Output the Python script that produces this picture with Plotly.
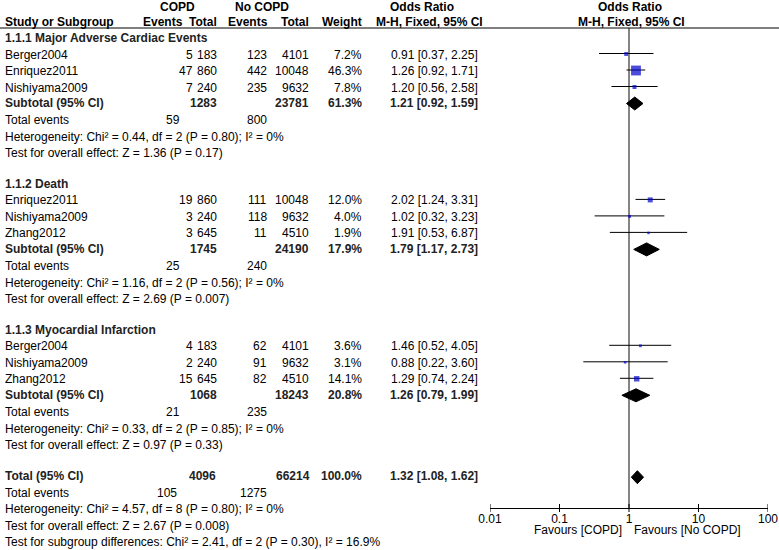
import math
import plotly.graph_objects as go

# ---------------- data ----------------
group_titles = ["1.1.1 Major Adverse Cardiac Events", "1.1.2 Death", "1.1.3 Myocardial Infarction"]
study_names = ["Berger2004", "Enriquez2011", "Nishiyama2009",
               "Enriquez2011", "Nishiyama2009", "Zhang2012",
               "Berger2004", "Nishiyama2009", "Zhang2012"]
study_group = [0, 0, 0, 1, 1, 1, 2, 2, 2]
copd_events = [5, 47, 7, 19, 3, 3, 4, 2, 15]
copd_total = [183, 860, 240, 860, 240, 645, 183, 240, 645]
nocopd_events = [123, 442, 235, 111, 118, 11, 62, 91, 82]
nocopd_total = [4101, 10048, 9632, 10048, 9632, 4510, 4101, 9632, 4510]
weights = [7.2, 46.3, 7.8, 12.0, 4.0, 1.9, 3.6, 3.1, 14.1]
or_est = [0.91, 1.26, 1.20, 2.02, 1.02, 1.91, 1.46, 0.88, 1.29]
or_lo = [0.37, 0.92, 0.56, 1.24, 0.32, 0.53, 0.52, 0.22, 0.74]
or_hi = [2.25, 1.71, 2.58, 3.31, 3.23, 6.87, 4.05, 3.60, 2.24]

sub_copd_total = [1283, 1745, 1068]
sub_nocopd_total = [23781, 24190, 18243]
sub_weight = [61.3, 17.9, 20.8]
sub_or = [1.21, 1.79, 1.26]
sub_lo = [0.92, 1.17, 0.79]
sub_hi = [1.59, 2.73, 1.99]
sub_copd_events = [59, 25, 21]
sub_nocopd_events = [800, 240, 235]
het_chi2 = ["0.44", "1.16", "0.33"]
het_df = [2, 2, 2]
het_p = ["0.80", "0.56", "0.85"]
het_i2 = ["0%", "0%", "0%"]
z_val = ["1.36", "2.69", "0.97"]
z_p = ["0.17", "0.007", "0.33"]

total_copd_total = 4096
total_nocopd_total = 66214
total_weight = 100.0
total_or = 1.32
total_lo = 1.08
total_hi = 1.62
total_copd_events = 105
total_nocopd_events = 1275
total_het = ("4.57", 8, "0.80", "0%")
total_z = ("2.67", "0.008")
subgroup_diff = ("2.41", 2, "0.30", "16.9%")

tick_vals = [0.01, 0.1, 1, 10, 100]
tick_text = ["0.01", "0.1", "1", "10", "100"]

# ---------------- layout helpers ----------------
W, H = 779, 550
FONT = "Liberation Sans, Arial, sans-serif"
FS = 12
annotations = []


def txt(x, y, s, anchor="left", bold=False, color="#000"):
    annotations.append(dict(
        x=x / W, y=y, xref="paper", yref="y", text=("<b>%s</b>" % s) if bold else s,
        showarrow=False, xanchor=anchor, yanchor="middle", borderpad=0,
        font=dict(family=FONT, size=FS, color=color)))


X_CE, X_CT, X_NE, X_NT, X_W, X_OR = 194, 218, 268, 310, 363, 479
X_TE_C, X_TE_N = 181, 268

# header
txt(177, 6.5, "COPD", "center", True)
txt(262, 6.5, "No COPD", "center", True)
txt(422, 6.5, "Odds Ratio", "center", True)
txt(630, 6.5, "Odds Ratio", "center", True)
txt(4, 22, "Study or Subgroup", "left", True)
txt(184, 22, "Events", "right", True)
txt(218, 22, "Total", "right", True)
txt(269, 22, "Events", "right", True)
txt(310, 22, "Total", "right", True)
txt(363, 22, "Weight", "right", True)
txt(430, 22, "M-H, Fixed, 95% CI", "center", True)
txt(631, 22, "M-H, Fixed, 95% CI", "center", True)

HEADER_LINE_Y = 28
AXIS_Y = 508

study_y = []
sub_y = []
y = 38
for g in range(3):
    txt(4, y, group_titles[g], "left", True, "#222")
    idx = [i for i in range(len(study_names)) if study_group[i] == g]
    yy = y
    for i in idx:
        yy += 16.5
        study_y.append(yy)
        txt(4, yy, study_names[i])
        txt(X_CE, yy, str(copd_events[i]), "right")
        txt(X_CT, yy, str(copd_total[i]), "right")
        txt(X_NE, yy, str(nocopd_events[i]), "right")
        txt(X_NT, yy, str(nocopd_total[i]), "right")
        txt(X_W, yy, "%.1f%%" % weights[i], "right")
        txt(X_OR, yy, "%.2f [%.2f, %.2f]" % (or_est[i], or_lo[i], or_hi[i]), "right")
    yy += 15.5
    sub_y.append(yy)
    txt(4, yy, "Subtotal (95% CI)", "left", True, "#222")
    txt(X_CT, yy, str(sub_copd_total[g]), "right", True, "#222")
    txt(X_NT, yy, str(sub_nocopd_total[g]), "right", True, "#222")
    txt(X_W, yy, "%.1f%%" % sub_weight[g], "right", True, "#222")
    txt(X_OR, yy, "%.2f [%.2f, %.2f]" % (sub_or[g], sub_lo[g], sub_hi[g]), "right", True, "#222")
    yy += 17
    txt(4, yy, "Total events")
    txt(X_TE_C, yy, str(sub_copd_events[g]), "right")
    txt(X_TE_N, yy, str(sub_nocopd_events[g]), "right")
    yy += 16.7
    txt(4, yy, "Heterogeneity: Chi² = %s, df = %d (P = %s); I² = %s" % (het_chi2[g], het_df[g], het_p[g], het_i2[g]))
    yy += 16.7
    txt(4, yy, "Test for overall effect: Z = %s (P = %s)" % (z_val[g], z_p[g]))
    y = yy + 30.5

# total block
ty = y + 0.5
txt(4, ty, "Total (95% CI)", "left", True, "#222")
txt(217, ty, str(total_copd_total), "right", True, "#222")
txt(311, ty, str(total_nocopd_total), "right", True, "#222")
txt(X_W, ty, "%.1f%%" % total_weight, "right", True, "#222")
txt(X_OR, ty, "%.2f [%.2f, %.2f]" % (total_or, total_lo, total_hi), "right", True, "#222")
txt(4, ty + 16.5, "Total events")
txt(178, ty + 16.5, str(total_copd_events), "right")
txt(X_TE_N, ty + 16.5, str(total_nocopd_events), "right")
txt(4, ty + 33, "Heterogeneity: Chi² = %s, df = %d (P = %s); I² = %s" % total_het)
txt(4, ty + 49.5, "Test for overall effect: Z = %s (P = %s)" % total_z)
txt(4, ty + 66, "Test for subgroup differences: Chi² = %s, df = %d (P = %s), I² = %s" % subgroup_diff)

# favours labels
txt(623, 530, "Favours [COPD]", "right")
txt(633, 530, "Favours [No COPD]", "left")

fig = go.Figure()

# vertical line at OR = 1
fig.add_trace(go.Scatter(x=[1, 1], y=[HEADER_LINE_Y, AXIS_Y], mode="lines",
                         line=dict(color="#333", width=1.2), hoverinfo="skip"))

# CI lines
cx, cy = [], []
for i in range(len(study_names)):
    cx += [or_lo[i], or_hi[i], None]
    cy += [study_y[i] - 1, study_y[i] - 1, None]
fig.add_trace(go.Scatter(x=cx, y=cy, mode="lines", line=dict(color="#000", width=1),
                         hoverinfo="skip"))

# squares
fig.add_trace(go.Scatter(x=or_est, y=[v - 0.5 for v in study_y], mode="markers",
                         marker=dict(symbol="square", color="#0000CC",
                                     size=[max(2.5, 1.45 * math.sqrt(w)) for w in weights],
                                     line=dict(width=0)),
                         hoverinfo="skip"))

# diamonds
def diamond(est, lo, hi, yc, h=6.5):
    fig.add_trace(go.Scatter(x=[lo, est, hi, est, lo], y=[yc, yc - h, yc, yc + h, yc],
                             mode="lines", fill="toself", fillcolor="#000",
                             line=dict(color="#000", width=1), hoverinfo="skip"))

for g in range(3):
    diamond(sub_or[g], sub_lo[g], sub_hi[g], sub_y[g] + 0.5)
diamond(total_or, total_lo, total_hi, ty + 1)

# axis ticks (both sides of axis line)
tx, tyy = [], []
for t in tick_vals:
    tx += [t, t, None]
    tyy += [AXIS_Y - 4, AXIS_Y + 4, None]
fig.add_trace(go.Scatter(x=tx, y=tyy, mode="lines", line=dict(color="#000", width=1),
                         hoverinfo="skip"))

fig.update_layout(
    template="none",
    width=W, height=H, margin=dict(l=0, r=0, t=0, b=0, pad=0, autoexpand=False),
    paper_bgcolor="white", plot_bgcolor="rgba(0,0,0,0)", showlegend=False,
    annotations=annotations,
    shapes=[dict(type="line", xref="paper", yref="y", x0=0, x1=1,
                 y0=HEADER_LINE_Y, y1=HEADER_LINE_Y, line=dict(color="#000", width=1))],
    xaxis=dict(type="log", range=[-2, 2], domain=[490 / W, 768 / W], anchor="free",
               position=1 - AXIS_Y / H, showline=True, linecolor="#000", linewidth=1,
               showgrid=False, zeroline=False, tickvals=tick_vals, ticktext=tick_text,
               ticks="", automargin=False,
               tickfont=dict(family=FONT, size=FS, color="#000")),
    yaxis=dict(range=[H, 0], domain=[0, 1], visible=False, showgrid=False, zeroline=False,
               automargin=False),
)

fig.write_html("out.html", config={"displayModeBar": False},
               post_script="document.body.style.margin='0';document.body.style.overflow='hidden';")
